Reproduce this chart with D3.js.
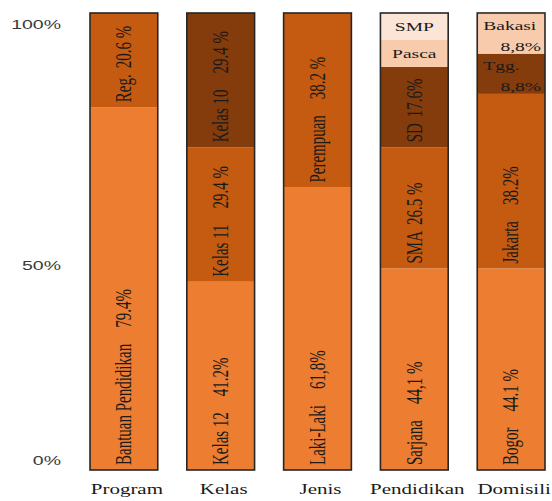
<!DOCTYPE html>
<html>
<head>
<meta charset="utf-8">
<script src="https://cdn.jsdelivr.net/npm/d3@7"></script>
<style>
  html, body { margin: 0; padding: 0; background: #ffffff; }
  svg { display: block; }
</style>
</head>
<body>
<svg id="chart" width="552" height="501"></svg>
<script>
// Respondent profile, percentage composition per characteristic (stacked 100%)
const categories = ["Program", "Kelas", "Jenis", "Pendidikan", "Domisili"];

const segmentNames = [
  ["Bantuan Pendidikan", "Reg."],
  ["Kelas 12", "Kelas 11", "Kelas 10"],
  ["Laki-Laki", "Perempuan"],
  ["Sarjana", "SMA", "SD", "Pasca", "SMP"],
  ["Bogor", "Jakarta", "Tgg.", "Bakasi"]
];

const segmentValues = [
  [79.4, 20.6],
  [41.2, 29.4, 29.4],
  [61.8, 38.2],
  [44.1, 26.5, 17.6, 5.9, 5.9],
  [44.1, 38.2, 8.8, 8.8]
];

const valueLabels = [
  ["79.4%", "20.6 %"],
  ["41.2%", "29.4 %", "29.4 %"],
  ["61,8%", "38.2 %"],
  ["44,1 %", "26.5 %", "17.6%", "", ""],
  ["44.1 %", "38.2%", "8,8%", "8,8%"]
];

const tickValues = [0, 50, 100];
const tickLabels = ["0%", "50%", "100%"];

// shade by stacking order, bottom to top
const shades = ["#ED7D31", "#C55A11", "#843C0C", "#F8CBAD", "#FBE5D6"];

const svg = d3.select("#chart");

const x = d3.scaleBand()
  .domain(categories)
  .range([90, 545])
  .paddingInner(0.3)
  .paddingOuter(0);

const y = d3.scaleLinear().domain([0, 100]).range([470, 13]);

// percentage labels on the left sit on their own scale
const yTick = d3.scaleLinear().domain([0, 50, 100]).range([460, 265, 24]);

// flatten into stacked segments
const segments = [];
categories.forEach((cat, ci) => {
  let base = 0;
  segmentValues[ci].forEach((v, si) => {
    segments.push({
      cat, ci, si,
      name: segmentNames[ci][si],
      value: v,
      label: valueLabels[ci][si],
      y0: base,
      y1: base + v
    });
    base += v;
  });
});

// segments
svg.append("g")
  .selectAll("rect")
  .data(segments)
  .join("rect")
  .attr("x", d => x(d.cat))
  .attr("width", x.bandwidth())
  .attr("y", d => y(d.y1))
  .attr("height", d => y(d.y0) - y(d.y1))
  .attr("fill", d => shades[d.si]);

// bar outlines
svg.append("g")
  .selectAll("rect")
  .data(categories.map((c, ci) => ({ c, total: d3.sum(segmentValues[ci]) })))
  .join("rect")
  .attr("x", d => x(d.c))
  .attr("width", x.bandwidth())
  .attr("y", d => y(Math.max(100, d.total)))
  .attr("height", d => y(0) - y(Math.max(100, d.total)))
  .attr("fill", "none")
  .attr("stroke", "#262626")
  .attr("stroke-width", 1.6);

// rotated labels for the tall segments
const tall = segments.filter(d => d.value >= 10);
const rot = svg.append("g")
  .attr("font-family", "'Liberation Serif', 'Times New Roman', serif")
  .attr("font-size", 15)
  .attr("fill", "#1a1a1a")
  .selectAll("text")
  .data(tall)
  .join("text")
  .attr("transform", d =>
    `translate(${x(d.cat) + x.bandwidth() / 2 - 1},${y(d.y0) - 5}) rotate(-90) scale(1,1.5)`)
  .attr("dominant-baseline", "central")
  .attr("text-anchor", "start");
rot.append("tspan").text(d => d.name);
rot.append("tspan").attr("dx", d => d.name.length < 5 ? 6 : 16).text(d => d.label);

// horizontal labels for the thin segments at the top of a bar
const thin = segments.filter(d => d.value < 10);
const hz = svg.append("g")
  .attr("font-family", "'Liberation Serif', 'Times New Roman', serif")
  .attr("font-size", 13)
  .attr("fill", "#1a1a1a");

thin.forEach(d => {
  const left = x(d.cat), right = left + x.bandwidth();
  const top = y(d.y1), bottom = y(d.y0);
  if (d.label === "") {
    hz.append("text")
      .attr("transform", `translate(${(left + right) / 2},${(top + bottom) / 2}) scale(1.5,1)`)
      .attr("text-anchor", "middle")
      .attr("dominant-baseline", "central")
      .text(d.name);
  } else {
    hz.append("text")
      .attr("transform", `translate(${left + 6},${top + 12}) scale(1.5,1)`)
      .attr("text-anchor", "start")
      .attr("dominant-baseline", "central")
      .text(d.name);
    hz.append("text")
      .attr("transform", `translate(${right - 4},${top + 33}) scale(1.5,1)`)
      .attr("text-anchor", "end")
      .attr("dominant-baseline", "central")
      .text(d.label);
  }
});

// left percentage axis (labels only)
const yAxis = d3.axisLeft(yTick)
  .tickValues(tickValues)
  .tickFormat((d, i) => tickLabels[i])
  .tickSize(0)
  .tickPadding(0);

const ag = svg.append("g")
  .attr("transform", "translate(61,0)")
  .call(yAxis);
ag.select(".domain").remove();
ag.selectAll("text")
  .attr("font-family", "'Liberation Sans', Arial, sans-serif")
  .attr("font-size", 13)
  .attr("fill", "#3a3a3a")
  .attr("transform", "scale(1.5,1)");

// category labels under the bars
svg.append("g")
  .attr("font-family", "'Liberation Serif', 'Times New Roman', serif")
  .attr("font-size", 14)
  .attr("fill", "#1a1a1a")
  .selectAll("text")
  .data(categories)
  .join("text")
  .attr("transform", d => `translate(${x(d) + x.bandwidth() / 2 + 3},494) scale(1.5,1)`)
  .attr("text-anchor", "middle")
  .text(d => d);
</script>
</body>
</html>
